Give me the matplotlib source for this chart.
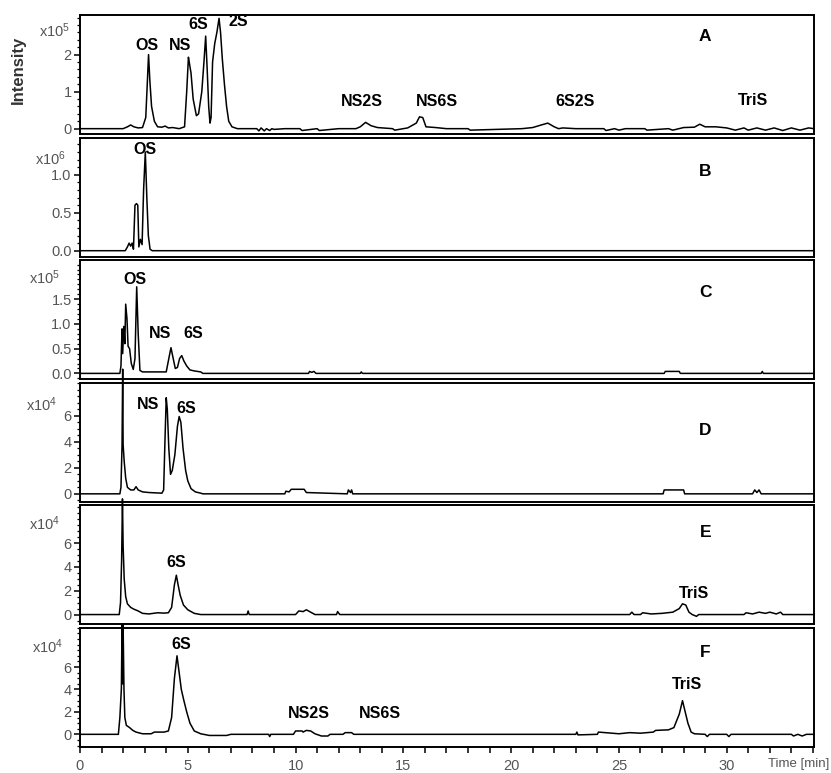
import matplotlib
matplotlib.use("Agg")
import matplotlib.pyplot as plt
from matplotlib.ticker import MultipleLocator, AutoMinorLocator

plt.rcParams['font.family'] = ['Liberation Sans', 'DejaVu Sans']
plt.rcParams['mathtext.default'] = 'regular'

# ---------------- data (time in min, intensity in panel units) ----------------
a_time = [0, 1.0, 2.0, 2.2, 2.35, 2.5, 2.7, 2.9, 3.05, 3.12, 3.18, 3.24, 3.32, 3.45, 3.6, 3.8, 3.95, 4.1, 4.3, 4.6,
          4.85, 4.95, 5.03, 5.08, 5.15, 5.25, 5.4, 5.5, 5.65, 5.75, 5.83, 5.9, 5.97, 6.03, 6.08, 6.15, 6.25, 6.35,
          6.45, 6.52, 6.6, 6.7, 6.8, 6.9, 7.05, 7.3, 8.2, 8.3, 8.4, 8.55, 8.65, 8.8, 8.9, 9.0, 9.5, 10.2, 10.3,
          11.0, 11.1, 12.0, 12.8, 13.0, 13.25, 13.5, 13.8, 14.5, 14.6, 15.2, 15.6, 15.75, 15.9, 16.05, 16.5, 17.0,
          18.0, 18.1, 20.5, 21.0, 21.4, 21.7, 22.0, 22.2, 22.4, 23.0, 24.3, 24.4, 24.8, 25.0, 25.3, 26.2, 26.3,
          27.3, 27.5, 28.0, 28.5, 28.75, 29.0, 29.5, 30.0, 30.4, 30.8, 31.0, 31.4, 31.8, 32.2, 32.6, 33.0, 33.4,
          33.8, 34.05]
a_int = [0, 0, 0, 0.05, 0.1, 0.05, 0.02, 0.03, 0.3, 1.2, 2.0, 1.3, 0.6, 0.2, 0.05, 0.04, 0.07, 0.02, 0.03, 0.0,
         0.05, 1.0, 1.93, 1.75, 1.5, 0.8, 0.35, 0.4, 1.0, 1.8, 2.5, 1.6, 0.6, 0.15, 0.3, 1.8, 2.3, 2.6,
         2.98, 2.6, 1.9, 1.2, 0.6, 0.2, 0.05, 0.0, 0.0, -0.06, 0.02, -0.06, 0.0, -0.05, 0.0, -0.02, 0.0, 0.0, -0.05,
         0.0, -0.05, 0.0, 0.0, 0.05, 0.17, 0.08, 0.03, 0.0, -0.04, 0.02, 0.15, 0.32, 0.3, 0.05, 0.03, 0.0,
         0.0, -0.04, 0.0, 0.03, 0.1, 0.15, 0.05, 0.0, 0.02, 0.0, 0.0, -0.05, 0.0, -0.04, 0.0, 0.0, -0.04,
         0.0, -0.04, 0.03, 0.04, 0.12, 0.05, 0.05, 0.02, -0.04, 0.02, -0.04, 0.02, -0.04, 0.02, -0.05, 0.02, -0.04,
         0.02, 0.0]

b_time = [0, 2.1, 2.2, 2.28, 2.35, 2.42, 2.48, 2.55, 2.62, 2.68, 2.73, 2.8, 2.88, 2.95, 3.03, 3.1, 3.17, 3.25,
          3.35, 34.05]
b_int = [0, 0, 0.05, 0.1, 0.06, 0.1, 0.02, 0.6, 0.62, 0.6, 0.05, 0.15, 0.08, 0.8, 1.3, 0.7, 0.2, 0.02,
         0, 0]

c_time = [0, 1.85, 1.9, 1.95, 1.98, 2.03, 2.08, 2.12, 2.18, 2.23, 2.3, 2.38, 2.47, 2.55, 2.63, 2.7, 2.78, 2.9,
          3.5, 4.0, 4.12, 4.22, 4.3, 4.42, 4.52, 4.62, 4.72, 4.82, 4.95, 5.1, 5.3, 5.6, 5.7, 10.6, 10.65, 10.75,
          10.85, 10.95, 13.0, 13.05, 13.1, 27.1, 27.15, 27.8, 27.85, 31.6, 31.65, 31.7, 34.05]
c_int = [0, 0, 0.15, 0.9, 0.4, 0.95, 0.6, 1.4, 1.1, 0.55, 0.5, 0.2, 0.08, 0.3, 1.75, 0.8, 0.06, 0.03,
         0.03, 0.03, 0.3, 0.52, 0.35, 0.1, 0.12, 0.3, 0.36, 0.25, 0.15, 0.07, 0.05, 0.03, 0, 0, 0.04, 0.02,
         0.04, 0, 0, 0.03, 0, 0, 0.04, 0.04, 0, 0, 0.04, 0, 0]

d_time = [0, 1.85, 1.9, 1.95, 1.98, 2.0, 2.05, 2.12, 2.2, 2.35, 2.5, 2.6, 2.7, 2.9, 3.2, 3.8, 3.88, 3.94, 4.0,
          4.05, 4.12, 4.2, 4.28, 4.4, 4.52, 4.6, 4.68, 4.78, 4.9, 5.0, 5.15, 5.35, 5.6, 5.7, 9.5, 9.55, 9.7,
          9.8, 10.4, 10.5, 12.4, 12.45, 12.55, 12.6, 12.65, 27.05, 27.1, 28.0, 28.05, 31.2, 31.3, 31.4, 31.5,
          31.6, 34.05]
d_int = [0, 0, 0.5, 3.7, 9.6, 3.8, 2.5, 1.2, 0.5, 0.3, 0.3, 0.55, 0.3, 0.15, 0.1, 0.05, 0.3, 4.0, 7.4,
         6.5, 3.5, 1.5, 1.8, 3.0, 5.2, 5.95, 5.5, 3.5, 1.8, 1.0, 0.4, 0.15, 0.05, 0, 0, 0.2, 0.15,
         0.35, 0.35, 0.1, 0, 0.3, 0.1, 0.3, 0, 0, 0.3, 0.3, 0, 0, 0.3, 0.1, 0.3,
         0, 0]

e_time = [0, 1.82, 1.88, 1.93, 1.97, 2.0, 2.05, 2.12, 2.2, 2.35, 2.5, 2.7, 2.9, 3.2, 3.6, 3.9, 4.1, 4.25, 4.38,
          4.47, 4.55, 4.65, 4.8, 5.0, 5.3, 5.6, 7.75, 7.8, 7.85, 10.0, 10.15, 10.35, 10.5, 10.7, 10.9, 11.9,
          11.95, 12.05, 25.5, 25.6, 25.7, 26.0, 26.1, 26.5, 27.0, 27.5, 27.8, 27.95, 28.1, 28.25, 28.4, 28.6,
          28.7, 30.8, 30.9, 31.2, 31.5, 31.8, 32.0, 32.3, 32.5, 32.6, 34.05]
e_int = [0, 0, 1.0, 4.5, 9.7, 5.8, 3.0, 1.5, 0.9, 0.6, 0.45, 0.3, 0.1, 0.05, 0.15, 0.12, 0.15, 0.6, 2.5,
         3.3, 2.5, 1.6, 0.8, 0.4, 0.1, 0.0, 0, 0.3, 0, 0, 0.3, 0.25, 0.4, 0.2, 0, 0,
         0.25, 0, 0, 0.2, 0, 0, 0.15, 0.05, 0.1, 0.2, 0.5, 0.9, 0.8, 0.2, 0.0, -0.15,
         0, 0, 0.15, 0.05, 0.2, 0.1, 0.2, 0.05, 0.2, 0, 0]

f_time = [0, 1.78, 1.85, 1.92, 1.95, 1.98, 2.0, 2.04, 2.08, 2.15, 2.3, 2.45, 2.6, 2.9, 3.3, 3.45, 3.9, 4.1,
          4.25, 4.38, 4.5, 4.6, 4.7, 4.82, 4.95, 5.1, 5.3, 5.6, 6.0, 6.8, 7.0, 8.75, 8.8, 8.85, 9.9, 10.0, 10.3,
          10.35, 10.5, 10.7, 10.9, 11.2, 11.5, 11.6, 12.2, 12.3, 12.6, 12.7, 23.0, 23.05, 23.1, 24.0, 24.05,
          25.0, 25.5, 26.0, 26.6, 26.7, 27.3, 27.55, 27.8, 27.95, 28.05, 28.2, 28.35, 28.5, 29.0, 29.1, 29.2,
          30.0, 30.1, 30.2, 33.0, 33.1, 33.3, 33.5, 33.7, 34.05]
f_int = [0, 0, 1.5, 4.1, 9.8, 4.5, 9.8, 4.0, 1.5, 0.8, 0.6, 0.35, 0.2, 0.05, 0.05, 0.2, 0.2, 0.3,
         1.5, 5.0, 7.0, 5.5, 4.0, 3.0, 2.0, 1.0, 0.3, 0.05, -0.1, -0.1, 0, 0, -0.2, 0, 0, 0.3, 0.3,
         0.2, 0.35, 0.3, 0.05, -0.15, -0.15, 0, 0, 0.15, 0.15, 0, 0, 0.2, -0.05, 0.0, 0.2,
         0.05, 0.15, 0.1, 0.2, 0.35, 0.4, 0.6, 1.8, 3.0, 2.2, 1.0, 0.2, 0.05, 0.0, -0.2, 0,
         0, -0.2, 0, 0, -0.15, 0, -0.15, 0, 0]

panel_letters = ['A', 'B', 'C', 'D', 'E', 'F']
exponents = ['5', '6', '5', '4', '4', '4']
y_limits = [(-0.15, 3.07), (-0.08, 1.49), (-0.12, 2.29), (-0.62, 8.56), (-0.83, 9.17), (-1.13, 9.5)]
y_ticks = [[0, 1, 2], [0.0, 0.5, 1.0], [0.0, 0.5, 1.0, 1.5], [0, 2, 4, 6], [0, 2, 4, 6], [0, 2, 4, 6]]
y_ticklabels = [['0', '1', '2'], ['0.0', '0.5', '1.0'], ['0.0', '0.5', '1.0', '1.5'],
                ['0', '2', '4', '6'], ['0', '2', '4', '6'], ['0', '2', '4', '6']]
x_ticks = [0, 5, 10, 15, 20, 25, 30]

peak_labels = [
    [('OS', 3.1, 2.25), ('NS', 4.64, 2.25), ('6S', 5.5, 2.8), ('2S', 7.35, 2.9),
     ('NS2S', 13.08, 0.74), ('NS6S', 16.56, 0.74), ('6S2S', 22.96, 0.74), ('TriS', 31.2, 0.77)],
    [('OS', 3.0, 1.33)],
    [('OS', 2.55, 1.9), ('NS', 3.71, 0.8), ('6S', 5.24, 0.8)],
    [('NS', 3.17, 6.9), ('6S', 4.95, 6.6)],
    [('6S', 4.48, 4.4), ('TriS', 28.5, 1.8)],
    [('6S', 4.68, 8.0), ('NS2S', 10.6, 1.9), ('NS6S', 13.9, 1.9), ('TriS', 28.15, 4.4)],
]
letter_y = [2.49, 1.04, 1.63, 4.9, 6.87, 7.3]

# exponent label positions in figure pixels (right edge x, centre y)
exp_pos = [(70, 31), (66, 159), (60, 278), (57, 405), (60, 524), (63, 647)]

traces = [(a_time, a_int), (b_time, b_int), (c_time, c_int),
          (d_time, d_int), (e_time, e_int), (f_time, f_int)]

W, H = 831, 773
fig = plt.figure(figsize=(W / 100, H / 100), dpi=100)
gs = fig.add_gridspec(6, 1, left=80 / W, right=814 / W, top=1 - 15 / H, bottom=1 - 747 / H, hspace=0.028)

tick_col = '#555555'
for i in range(6):
    ax = fig.add_subplot(gs[i])
    t, y = traces[i]
    ax.plot(t, y, color='black', lw=1.1, clip_on=False, zorder=3)
    ax.set_xlim(0, 34.05)
    ax.set_ylim(*y_limits[i])
    for s in ax.spines.values():
        s.set_linewidth(1.4)
    ax.set_yticks(y_ticks[i])
    ax.set_yticklabels(y_ticklabels[i])
    ax.yaxis.set_minor_locator(AutoMinorLocator(5 if i < 3 else 4))
    ax.tick_params(axis='y', which='major', direction='out', length=4, width=1.1,
                   labelsize=10.5, labelcolor=tick_col, pad=2)
    ax.tick_params(axis='y', which='minor', direction='out', length=2.5, width=0.9)
    if i < 5:
        ax.tick_params(axis='x', which='both', bottom=False, labelbottom=False)
    else:
        ax.set_xticks(x_ticks)
        ax.xaxis.set_minor_locator(MultipleLocator(1))
        ax.tick_params(axis='x', which='major', direction='out', length=4, width=1.1,
                       labelsize=10.5, labelcolor=tick_col, pad=5)
        ax.tick_params(axis='x', which='minor', direction='out', length=4, width=1.1)
    for lab, x, yy in peak_labels[i]:
        ax.text(x, yy, lab, ha='center', va='center', fontsize=11.5, fontweight='bold', zorder=4)
    ax.text(29.0, letter_y[i], panel_letters[i], ha='center', va='center', fontsize=12.5,
            fontweight='bold')
    ex, ey = exp_pos[i]
    fig.text(ex / W, 1 - ey / H, 'x10$^{%s}$' % exponents[i], ha='right', va='center',
             fontsize=10.5, color=tick_col)

fig.text(18 / W, 1 - 70 / H, 'Intensity', rotation=90, ha='center', va='center',
         fontsize=12, fontweight='bold', color='#333333')
fig.text(829 / W, 1 - 764 / H, 'Time [min]', ha='right', va='center', fontsize=9.5, color=tick_col)

fig.savefig('out.png', dpi=100)
